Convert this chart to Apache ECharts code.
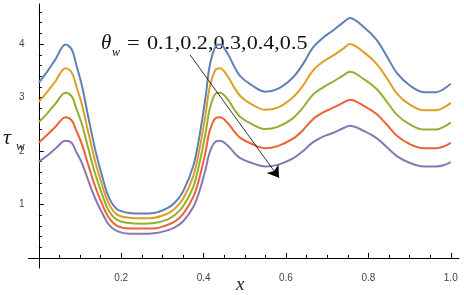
<!DOCTYPE html>
<html><head><meta charset="utf-8">
<script src="https://cdn.jsdelivr.net/npm/echarts@6/dist/echarts.min.js"></script>
<style>html,body{margin:0;padding:0;background:#fff}#c{width:464px;height:295px}</style>
</head><body><div id="c"></div>
<script>
const xs = [0, 0.02, 0.04, 0.065, 0.08, 0.09, 0.105, 0.12, 0.137, 0.154, 0.17, 0.19, 0.22, 0.25, 0.28, 0.31, 0.33, 0.35, 0.375, 0.39, 0.405, 0.415, 0.43, 0.44, 0.46, 0.475, 0.49, 0.515, 0.55, 0.58, 0.615, 0.64, 0.665, 0.69, 0.715, 0.74, 0.755, 0.79, 0.82, 0.845, 0.87, 0.9, 0.935, 0.965, 0.985, 1.0];
const tau01 = [3.28,3.48,3.71,3.99,3.90,3.64,3.21,2.64,2.02,1.52,1.13,0.91,0.84,0.83,0.84,0.92,1.03,1.24,1.72,2.28,3.02,3.60,3.97,3.99,3.80,3.57,3.39,3.24,3.11,3.16,3.36,3.61,3.93,4.12,4.26,4.41,4.49,4.31,4.08,3.77,3.45,3.23,3.10,3.10,3.17,3.26];
const tau02 = [2.92,3.10,3.30,3.55,3.47,3.24,2.86,2.35,1.80,1.35,1.01,0.81,0.75,0.74,0.75,0.82,0.92,1.10,1.53,2.03,2.69,3.20,3.53,3.55,3.38,3.18,3.02,2.88,2.77,2.81,2.99,3.21,3.50,3.67,3.79,3.92,4.00,3.84,3.63,3.36,3.07,2.87,2.76,2.76,2.82,2.90];
const tau03 = [2.54,2.70,2.88,3.09,3.02,2.82,2.49,2.05,1.57,1.18,0.88,0.71,0.65,0.64,0.65,0.71,0.80,0.96,1.33,1.77,2.34,2.79,3.08,3.09,2.95,2.77,2.63,2.51,2.41,2.45,2.60,2.80,3.05,3.19,3.30,3.42,3.48,3.34,3.16,2.92,2.67,2.50,2.40,2.40,2.46,2.53];
const tau04 = [2.16,2.30,2.45,2.63,2.57,2.40,2.12,1.74,1.33,1.00,0.75,0.60,0.55,0.55,0.55,0.61,0.68,0.82,1.14,1.50,1.99,2.38,2.62,2.63,2.51,2.36,2.24,2.14,2.05,2.09,2.22,2.38,2.59,2.72,2.81,2.91,2.96,2.84,2.69,2.49,2.28,2.13,2.05,2.05,2.09,2.15];
const tau05 = [1.80,1.91,2.04,2.19,2.15,2.00,1.77,1.45,1.11,0.84,0.62,0.50,0.45,0.45,0.46,0.51,0.57,0.68,0.95,1.25,1.66,1.98,2.18,2.19,2.09,1.96,1.86,1.78,1.71,1.74,1.85,1.99,2.16,2.27,2.34,2.43,2.47,2.37,2.24,2.07,1.90,1.78,1.71,1.71,1.74,1.79];
const thetaValues = ['0.1','0.2','0.3','0.4','0.5'];
const xMajor = [0.2,0.4,0.6,0.8,1.0];
const xMinor = [0.05,0.1,0.15,0.25,0.3,0.35,0.45,0.5,0.55,0.65,0.7,0.75,0.85,0.9,0.95];
const yMajor = [1,2,3,4];
const yMinor = [0.2,0.4,0.6,0.8,1.2,1.4,1.6,1.8,2.2,2.4,2.6,2.8,3.2,3.4,3.6,3.8,4.2,4.4,4.6];
const arrowFrom = [0.367, 3.80];
const arrowTo = [0.583, 1.50];

const colors = ['#5E81B5','#E19C24','#8FB032','#EB6235','#8778B3'];
const allSeries = [tau01,tau02,tau03,tau04,tau05];

const chart = echarts.init(document.getElementById('c'), null, {renderer:'canvas'});
const X0 = -0.025, X1 = 1.02, Y0 = -0.19, Y1 = 4.75;
const axisCol = '#000';
const series = allSeries.map((arr, i) => ({
  type:'line', name:'θw=' + thetaValues[i], xAxisIndex:0, yAxisIndex:0,
  data: xs.map((x, j) => [x, arr[j]]),
  showSymbol:false, smooth:0.35, z: 3,
  lineStyle:{color:colors[i], width:2},
  itemStyle:{color:colors[i]}
}));
series.push({
  type:'line', data:[], xAxisIndex:0, yAxisIndex:0, z:5,
  markLine:{
    silent:true, animation:false,
    symbol:['none','arrow'], symbolSize:11,
    label:{show:false},
    itemStyle:{color:'#000'},
    lineStyle:{color:'#000', width:0.8, type:'solid'},
    emphasis:{disabled:true},
    data:[[{coord:arrowFrom},{coord:arrowTo}]]
  }
});

chart.setOption({
  animation:false,
  backgroundColor:'#fff',
  grid:{left:28.5, right:5, top:4, bottom:27, containLabel:false},
  xAxis:[
    {type:'value', min:X0, max:X1, position:'bottom',
     axisLine:{show:true, onZero:true, onZeroAxisIndex:0, lineStyle:{color:axisCol, width:1}},
     axisTick:{show:true, inside:true, length:5, customValues:xMajor, lineStyle:{color:axisCol, width:1}},
     axisLabel:{show:true, customValues:xMajor, formatter:v=>v.toFixed(1), color:'#444', fontSize:10, fontFamily:'Liberation Sans', margin:5},
     splitLine:{show:false}},
    {type:'value', min:X0, max:X1, position:'bottom',
     axisLine:{show:true, onZero:true, onZeroAxisIndex:0, lineStyle:{opacity:0}},
     axisTick:{show:true, inside:true, length:3, customValues:xMinor, lineStyle:{color:axisCol, width:1}},
     axisLabel:{show:false}, splitLine:{show:false}}
  ],
  yAxis:[
    {type:'value', min:Y0, max:Y1, position:'left',
     axisLine:{show:true, onZero:true, onZeroAxisIndex:0, lineStyle:{color:axisCol, width:1}},
     axisTick:{show:true, inside:true, length:5, customValues:yMajor, lineStyle:{color:axisCol, width:1}},
     axisLabel:{show:true, customValues:yMajor, formatter:v=>String(v), color:'#444', fontSize:10, fontFamily:'Liberation Sans', margin:4},
     splitLine:{show:false}},
    {type:'value', min:Y0, max:Y1, position:'left',
     axisLine:{show:true, onZero:true, onZeroAxisIndex:0, lineStyle:{opacity:0}},
     axisTick:{show:true, inside:true, length:3, customValues:yMinor, lineStyle:{color:axisCol, width:1}},
     axisLabel:{show:false}, splitLine:{show:false}}
  ],
  series: series,
  graphic:[
    {type:'text', x:101, y:43, style:{text:'θ', fontSize:21, fontStyle:'italic', fontFamily:'Liberation Serif', fill:'#111', verticalAlign:'middle'}},
    {type:'text', x:112, y:53, style:{text:'w', fontSize:12, fontStyle:'italic', fontFamily:'Liberation Serif', fill:'#111', verticalAlign:'middle'}},
    {type:'text', x:127, y:44, scaleX:1.25, style:{text:'=', fontSize:18, fontFamily:'Liberation Serif', fill:'#111', verticalAlign:'middle'}},
    {type:'text', x:147, y:44, scaleX:1.23, style:{text:thetaValues.join(','), fontSize:18, fontFamily:'Liberation Serif', fill:'#111', verticalAlign:'middle'}},
    {type:'text', x:3, y:138, style:{text:'τ', fontSize:22, fontStyle:'italic', fontFamily:'Liberation Serif', fill:'#1b1b3a', verticalAlign:'middle'}},
    {type:'text', x:16, y:147, style:{text:'w', fontSize:13, fontStyle:'italic', fontFamily:'Liberation Serif', fill:'#1b1b3a', verticalAlign:'middle'}},
    {type:'text', x:236, y:285, style:{text:'x', fontSize:19, fontStyle:'italic', fontFamily:'Liberation Serif', fill:'#1b1b3a', verticalAlign:'middle'}}
  ]
});
</script>
</body></html>
